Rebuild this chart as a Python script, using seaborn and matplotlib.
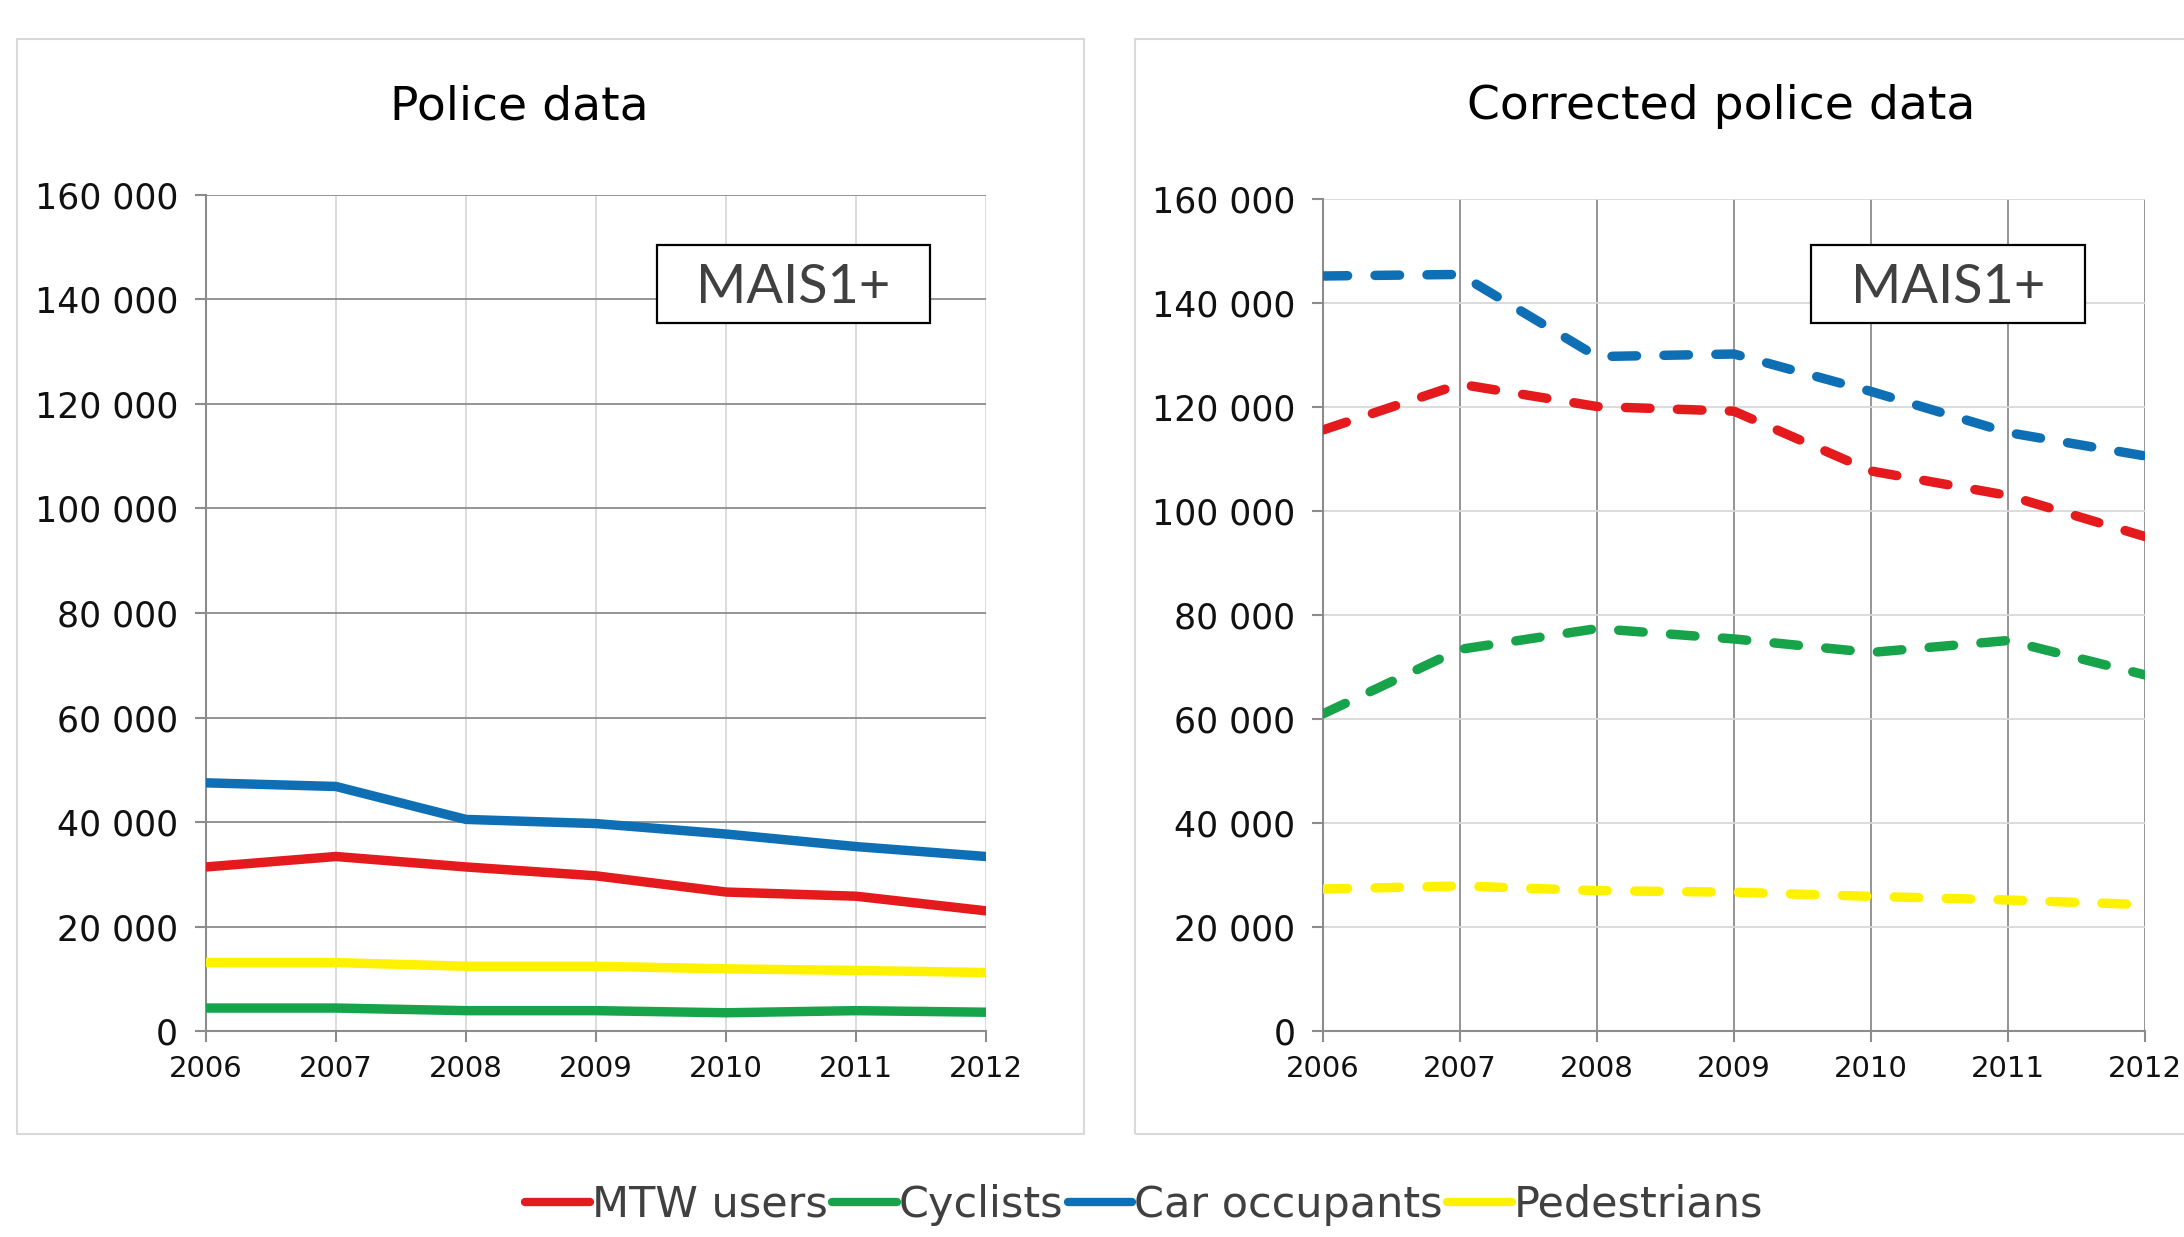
import numpy as np
import pandas as pd
import seaborn as sns
import matplotlib
matplotlib.use("Agg")
import matplotlib.pyplot as plt
from matplotlib.lines import Line2D
from matplotlib.patches import Rectangle
from matplotlib.ticker import FuncFormatter

years = [2006, 2007, 2008, 2009, 2010, 2011, 2012]
categories = ["MTW users", "Cyclists", "Car occupants", "Pedestrians"]
colors = ["#E41A1C", "#17A34A", "#0F6FB5", "#FFF200"]

# Police data
police_mtw = [31400, 33400, 31400, 29700, 26600, 25800, 23000]
police_cyc = [4400, 4400, 3900, 3900, 3500, 3900, 3600]
police_car = [47500, 46800, 40500, 39700, 37700, 35300, 33400]
police_ped = [13100, 13100, 12400, 12400, 11900, 11600, 11200]

# Corrected police data
corr_mtw = [115600, 124400, 120100, 119200, 107700, 103000, 95100]
corr_cyc = [61000, 73400, 77400, 75400, 72800, 75100, 68500]
corr_car = [145200, 145500, 129700, 130200, 123000, 115100, 110600]
corr_ped = [27300, 27900, 27000, 26700, 25900, 25200, 24300]

panel_titles = ["Police data", "Corrected police data"]
box_label = "MAIS1+"
yticks = [0, 20000, 40000, 60000, 80000, 100000, 120000, 140000, 160000]


def long_df(series):
    rows = []
    for cat, vals in zip(categories, series):
        for yr, v in zip(years, vals):
            rows.append({"year": yr, "value": v, "group": cat})
    return pd.DataFrame(rows)


df_left = long_df([police_mtw, police_cyc, police_car, police_ped])
df_right = long_df([corr_mtw, corr_cyc, corr_car, corr_ped])

sns.set_style("white")
plt.rcParams["font.family"] = ["DejaVu Sans"]

fig = plt.figure(figsize=(21.84, 12.37), dpi=100)

# panel frames
fig.patches.append(Rectangle((0.0078, 0.0833), 0.4885, 0.8852, transform=fig.transFigure,
                             fill=False, edgecolor="#d9d9d9", linewidth=1.5, zorder=0))
fig.patches.append(Rectangle((0.5197, 0.0833), 0.52, 0.8852, transform=fig.transFigure,
                             fill=False, edgecolor="#d9d9d9", linewidth=1.5, zorder=0))

ax1 = fig.add_axes([0.0943, 0.1665, 0.3572, 0.6759])
ax2 = fig.add_axes([0.6058, 0.1665, 0.3763, 0.6726])

palette = dict(zip(categories, colors))
fmt = FuncFormatter(lambda v, p: f"{int(v):,}".replace(",", " "))

for ax, df, dashed, title, tx, ty, box in [
    (ax1, df_left, False, panel_titles[0], 0.238, 0.9135, (0.578, 0.847, 0.35, 0.0933)),
    (ax2, df_right, True, panel_titles[1], 0.788, 0.914, (0.594, 0.851, 0.333, 0.0938)),
]:
    kws = {}
    if dashed:
        kws = dict(linestyle=(0, (2.6, 2.9)), dash_capstyle="round")
    sns.lineplot(data=df, x="year", y="value", hue="group", hue_order=categories,
                 palette=palette, linewidth=6.8, legend=False, ax=ax, zorder=3, **kws)
    ax.set_xlim(2006, 2012)
    ax.set_ylim(0, 160000)
    ax.set_xticks(years)
    ax.set_yticks(yticks)
    ax.yaxis.set_major_formatter(fmt)
    ax.set_xlabel("")
    ax.set_ylabel("")
    for s in ["top", "right"]:
        ax.spines[s].set_visible(False)
    for s in ["left", "bottom"]:
        ax.spines[s].set_visible(True)
        ax.spines[s].set_color("#8c8c8c")
        ax.spines[s].set_linewidth(1.5)
    ax.tick_params(axis="y", which="major", direction="out", length=8, width=1.5,
                   color="#8c8c8c", labelsize=25, pad=12, left=True, labelcolor="#111111")
    ax.tick_params(axis="x", which="major", direction="out", length=8, width=1.5,
                   color="#8c8c8c", labelsize=21, pad=9, bottom=True, labelcolor="#111111")
    # grid
    if not dashed:
        ax.yaxis.grid(True, color="#8c8c8c", linewidth=1.3, zorder=1)
        ax.xaxis.grid(True, color="#d9d9d9", linewidth=1.3, zorder=1)
    else:
        ax.yaxis.grid(True, color="#d9d9d9", linewidth=1.3, zorder=1)
        ax.xaxis.grid(True, color="#8c8c8c", linewidth=1.3, zorder=1)
    ax.set_axisbelow(True)
    fig.text(tx, ty, title, ha="center", va="center", fontsize=34, color="#000000")
    bx, by, bw, bh = box
    ax.add_patch(Rectangle((bx, by), bw, bh, transform=ax.transAxes, facecolor="white",
                           edgecolor="#000000", linewidth=1.6, zorder=5))
    ax.text(bx + bw / 2, by + bh / 2 - 0.004, box_label, transform=ax.transAxes, ha="center",
            va="center", fontsize=39, color="#404040", family="Lato", zorder=6)

handles = [Line2D([0], [0], color=c, linewidth=6) for c in colors]
leg = fig.legend(handles, categories, loc="center", bbox_to_anchor=(0.524, 0.026), ncol=4,
                 frameon=False, fontsize=31, handlelength=1.5, handletextpad=0.05,
                 columnspacing=0.1)
for t in leg.get_texts():
    t.set_color("#404040")

fig.savefig("out.png", dpi=100)
